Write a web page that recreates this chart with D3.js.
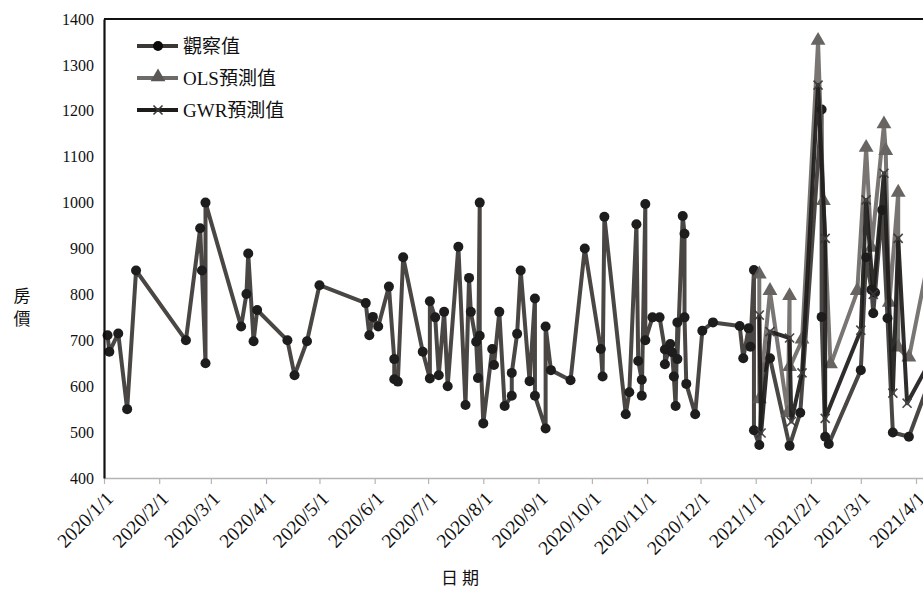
<!DOCTYPE html>
<html>
<head>
<meta charset="utf-8">
<script src="https://cdn.jsdelivr.net/npm/d3@7"></script>
<style>
  html, body { margin: 0; padding: 0; background: #fff; }
  svg { display: block; }
</style>
</head>
<body>
<div id="chart"></div>
<script>
// 觀察值 / OLS 預測值 / GWR 預測值 折線圖（日期軸）
const SERIF = '"Liberation Serif", "Times New Roman", "Noto Sans CJK TC", serif';
const CJK = '"Noto Sans CJK TC", "Noto Sans CJK SC", sans-serif';

const xTickLabels = ["2020/1/1", "2020/2/1", "2020/3/1", "2020/4/1", "2020/5/1", "2020/6/1",
  "2020/7/1", "2020/8/1", "2020/9/1", "2020/10/1", "2020/11/1", "2020/12/1",
  "2021/1/1", "2021/2/1", "2021/3/1", "2021/4/1"];
const yTicks = [400, 500, 600, 700, 800, 900, 1000, 1100, 1200, 1300, 1400];

// 觀察值
const obsDates = ["2020/1/3", "2020/1/4", "2020/1/9", "2020/1/14", "2020/1/19", "2020/2/16", "2020/2/24",
  "2020/2/25", "2020/2/27", "2020/2/27", "2020/3/18", "2020/3/21", "2020/3/22", "2020/3/25", "2020/3/27",
  "2020/4/13", "2020/4/17", "2020/4/24", "2020/5/1", "2020/5/27", "2020/5/29", "2020/5/31", "2020/6/3",
  "2020/6/9", "2020/6/12", "2020/6/12", "2020/6/14", "2020/6/17", "2020/6/28", "2020/7/2", "2020/7/2",
  "2020/7/5", "2020/7/7", "2020/7/10", "2020/7/12", "2020/7/18", "2020/7/22", "2020/7/24", "2020/7/25",
  "2020/7/28", "2020/7/29", "2020/7/30", "2020/7/30", "2020/8/1", "2020/8/6", "2020/8/7", "2020/8/10",
  "2020/8/13", "2020/8/17", "2020/8/17", "2020/8/20", "2020/8/22", "2020/8/27", "2020/8/30", "2020/8/30",
  "2020/9/5", "2020/9/5", "2020/9/8", "2020/9/19", "2020/9/27", "2020/10/6", "2020/10/7", "2020/10/8",
  "2020/10/20", "2020/10/22", "2020/10/26", "2020/10/27", "2020/10/29", "2020/10/29", "2020/10/31",
  "2020/10/31", "2020/11/4", "2020/11/8", "2020/11/11", "2020/11/11", "2020/11/14", "2020/11/15",
  "2020/11/16", "2020/11/17", "2020/11/18", "2020/11/18", "2020/11/21", "2020/11/22", "2020/11/22",
  "2020/11/23", "2020/11/28", "2020/12/2", "2020/12/8", "2020/12/23", "2020/12/25", "2020/12/28",
  "2020/12/29", "2020/12/31", "2020/12/31", "2021/1/3", "2021/1/5", "2021/1/9", "2021/1/20", "2021/1/26",
  "2021/2/7", "2021/2/7", "2021/2/9", "2021/2/11", "2021/3/1", "2021/3/4", "2021/3/7", "2021/3/8",
  "2021/3/9", "2021/3/13", "2021/3/16", "2021/3/19", "2021/3/28", "2021/4/9"];
const obsValues = [711, 675, 715, 550, 852, 700, 944,
  852, 650, 1000, 730, 801, 889, 698, 766,
  700, 624, 698, 820, 781, 711, 751, 730,
  817, 659, 615, 610, 881, 675, 617, 785,
  750, 624, 762, 600, 904, 559, 836, 762,
  697, 618, 1000, 710, 519, 681, 646, 762,
  557, 579, 629, 714, 852, 611, 791, 579,
  508, 730, 635, 613, 900, 681, 621, 969,
  539, 587, 953, 655, 614, 579, 997,
  700, 750, 750, 680, 648, 692, 674,
  621, 557, 739, 659, 971, 932, 750,
  605, 539, 721, 739, 731, 661, 726,
  686, 853, 504, 472, 641, 661, 470, 542,
  1203, 751, 490, 474, 635, 881, 810, 759,
  804, 984, 748, 499, 490, 615];

// OLS 預測值
const olsDates = ["2021/1/3", "2021/1/3", "2021/1/9", "2021/1/19", "2021/1/20", "2021/1/20", "2021/1/27",
  "2021/2/5", "2021/2/8", "2021/2/12", "2021/2/27", "2021/3/4", "2021/3/7", "2021/3/14", "2021/3/15",
  "2021/3/17", "2021/3/22", "2021/3/22", "2021/3/28", "2021/4/9"];
const olsValues = [842, 570, 806, 540, 795, 640, 700,
  1351, 1002, 646, 806, 1118, 900, 1169, 1111,
  780, 1020, 683, 661, 895];

// GWR 預測值
const gwrDates = ["2021/1/3", "2021/1/4", "2021/1/9", "2021/1/20", "2021/1/21", "2021/1/27", "2021/2/5",
  "2021/2/9", "2021/2/9", "2021/3/1", "2021/3/4", "2021/3/8", "2021/3/14", "2021/3/19", "2021/3/22",
  "2021/3/27", "2021/4/9"];
const gwrValues = [755, 498, 719, 705, 523, 629, 1256,
  922, 530, 722, 1006, 800, 1064, 585, 922,
  563, 655];

const W = 923, H = 590;
const ML = 104, MT = 19, MB = 478;
const parse = d3.timeParse("%Y/%m/%d");

const x = d3.scaleTime()
  .domain([parse("2020/1/1"), parse("2021/4/1")])
  .range([ML, 916]);
const y = d3.scaleLinear().domain([400, 1400]).range([MB, MT]);

const svg = d3.select("#chart").append("svg")
  .attr("width", W).attr("height", H)
  .attr("viewBox", `0 0 ${W} ${H}`);

// ── 邊框與座標軸 ──
svg.append("line")
  .attr("x1", ML).attr("x2", W).attr("y1", MT).attr("y2", MT)
  .attr("stroke", "#111").attr("stroke-width", 2);

const xAxis = d3.axisBottom(x)
  .tickValues(xTickLabels.map(parse))
  .tickFormat(d3.timeFormat("%Y/%-m/%-d"))
  .tickSize(6).tickSizeOuter(0);
const gx = svg.append("g").attr("transform", `translate(0,${MB})`).call(xAxis);
gx.select(".domain").attr("stroke", "#b5b5b5").attr("stroke-width", 1.5)
  .attr("d", `M${ML},0.5H${W}`);
gx.selectAll(".tick line").attr("stroke", "#b5b5b5").attr("stroke-width", 1.2);
gx.selectAll(".tick text")
  .attr("style", `font:19.5px ${SERIF};fill:#111`)
  .attr("text-anchor", "end")
  .attr("transform", "translate(5,17) rotate(-45)")
  .attr("dy", "0.35em").attr("x", 0).attr("y", 0);

const yAxis = d3.axisLeft(y).tickValues(yTicks).tickFormat(d3.format("d"))
  .tickSize(0).tickPadding(10);
const gy = svg.append("g").attr("transform", `translate(${ML},0)`).call(yAxis);
gy.select(".domain").attr("stroke", "#111").attr("stroke-width", 2.2);
gy.selectAll(".tick text").attr("style", `font:16px ${SERIF};fill:#111`);

// 軸標題
svg.append("text").attr("x", 22).attr("y", 302).attr("text-anchor", "middle")
  .attr("style", `font:17px ${CJK};fill:#111`).text("房");
svg.append("text").attr("x", 22).attr("y", 325).attr("text-anchor", "middle")
  .attr("style", `font:17px ${CJK};fill:#111`).text("價");
svg.append("text").attr("x", 462).attr("y", 584).attr("text-anchor", "middle")
  .attr("style", `font:17px ${CJK};fill:#111;letter-spacing:4px`).text("日期");

// ── 系列 ──
const series = [
  { name: "觀察值", dates: obsDates, values: obsValues, line: "#3b3735", mark: "circle", markCol: "#0a0a0a" },
  { name: "OLS預測值", dates: olsDates, values: olsValues, line: "#6e6a68", mark: "tri", markCol: "#5b5755" },
  { name: "GWR預測值", dates: gwrDates, values: gwrValues, line: "#1e1c1b", mark: "times", markCol: "#3a3838" },
];

const lineGen = d3.line().x(d => x(d.date)).y(d => y(d.value));

function drawMarker(g, kind, col, cx, cy) {
  if (kind === "circle") {
    g.append("circle").attr("cx", cx).attr("cy", cy).attr("r", 5).attr("fill", col);
  } else if (kind === "tri") {
    g.append("path").attr("d", d3.symbol(d3.symbolTriangle, 95)())
      .attr("transform", `translate(${cx},${cy - 1})`).attr("fill", col);
  } else {
    g.append("path").attr("d", d3.symbol(d3.symbolTimes, 55)())
      .attr("transform", `translate(${cx},${cy})`)
      .attr("fill", "none").attr("stroke", col).attr("stroke-width", 1.6);
  }
}

series.forEach(s => {
  const pts = s.dates.map((d, i) => ({ date: parse(d), value: s.values[i] }));
  const g = svg.append("g").attr("opacity", 0.92);
  g.append("path").attr("d", lineGen(pts))
    .attr("fill", "none").attr("stroke", s.line).attr("stroke-width", 4)
    .attr("stroke-linejoin", "round");
  pts.forEach(p => drawMarker(g, s.mark, s.markCol, x(p.date), y(p.value)));
});

// ── 圖例 ──
series.forEach((s, i) => {
  const ly = 46 + i * 32;
  const g = svg.append("g");
  g.append("line").attr("x1", 137).attr("x2", 178).attr("y1", ly).attr("y2", ly)
    .attr("stroke", s.line).attr("stroke-width", 4);
  drawMarker(g, s.mark, s.markCol, 158, ly);
  g.append("text").attr("x", 183).attr("y", ly + 7)
    .attr("style", `font:19px ${SERIF};fill:#111`).text(s.name);
});
</script>
</body>
</html>
